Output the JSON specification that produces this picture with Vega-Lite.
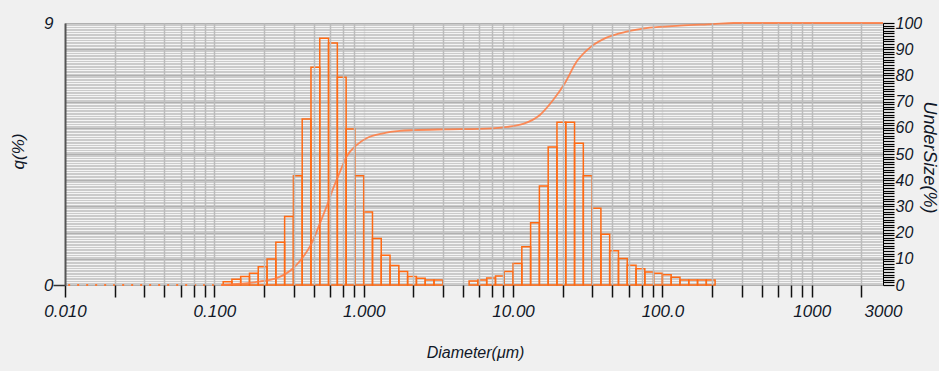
{
  "$schema": "https://vega.github.io/schema/vega-lite/v6.json",
  "width": 818,
  "height": 262,
  "autosize": {"type": "none"},
  "padding": {"left": 65, "top": 23, "right": 56, "bottom": 86},
  "background": "#f0f0f0",
  "view": {"fill": "#cbcbcb", "stroke": null},
  "config": {"font": "Liberation Sans"},
  "datasets": {
    "bins": [
      {"lo": 0.1146, "hi": 0.1311, "q": 0.11},
      {"lo": 0.1311, "hi": 0.1501, "q": 0.2},
      {"lo": 0.1501, "hi": 0.1719, "q": 0.29},
      {"lo": 0.1719, "hi": 0.1968, "q": 0.4},
      {"lo": 0.1968, "hi": 0.2254, "q": 0.63},
      {"lo": 0.2254, "hi": 0.2581, "q": 0.89},
      {"lo": 0.2581, "hi": 0.2955, "q": 1.47},
      {"lo": 0.2955, "hi": 0.3384, "q": 2.35},
      {"lo": 0.3384, "hi": 0.3875, "q": 3.75},
      {"lo": 0.3875, "hi": 0.4437, "q": 5.7},
      {"lo": 0.4437, "hi": 0.508, "q": 7.48},
      {"lo": 0.508, "hi": 0.5817, "q": 8.48},
      {"lo": 0.5817, "hi": 0.6661, "q": 8.31},
      {"lo": 0.6661, "hi": 0.7627, "q": 7.14},
      {"lo": 0.7627, "hi": 0.8733, "q": 5.36},
      {"lo": 0.8733, "hi": 1.0, "q": 3.75},
      {"lo": 1.0, "hi": 1.145, "q": 2.51},
      {"lo": 1.145, "hi": 1.311, "q": 1.6},
      {"lo": 1.311, "hi": 1.501, "q": 1.02},
      {"lo": 1.501, "hi": 1.719, "q": 0.67},
      {"lo": 1.719, "hi": 1.968, "q": 0.46},
      {"lo": 1.968, "hi": 2.254, "q": 0.29},
      {"lo": 2.254, "hi": 2.581, "q": 0.23},
      {"lo": 2.581, "hi": 2.955, "q": 0.17},
      {"lo": 2.955, "hi": 3.384, "q": 0.17},
      {"lo": 5.08, "hi": 5.817, "q": 0.14},
      {"lo": 5.817, "hi": 6.661, "q": 0.17},
      {"lo": 6.661, "hi": 7.627, "q": 0.24},
      {"lo": 7.627, "hi": 8.733, "q": 0.31},
      {"lo": 8.733, "hi": 10.0, "q": 0.46},
      {"lo": 10.0, "hi": 11.45, "q": 0.74},
      {"lo": 11.45, "hi": 13.11, "q": 1.31},
      {"lo": 13.11, "hi": 15.01, "q": 2.14},
      {"lo": 15.01, "hi": 17.19, "q": 3.4},
      {"lo": 17.19, "hi": 19.68, "q": 4.74},
      {"lo": 19.68, "hi": 22.54, "q": 5.59},
      {"lo": 22.54, "hi": 25.81, "q": 5.59},
      {"lo": 25.81, "hi": 29.55, "q": 4.87},
      {"lo": 29.55, "hi": 33.84, "q": 3.75},
      {"lo": 33.84, "hi": 38.75, "q": 2.64},
      {"lo": 38.75, "hi": 44.37, "q": 1.74},
      {"lo": 44.37, "hi": 50.8, "q": 1.18},
      {"lo": 50.8, "hi": 58.17, "q": 0.91},
      {"lo": 58.17, "hi": 66.61, "q": 0.68},
      {"lo": 66.61, "hi": 76.27, "q": 0.56},
      {"lo": 76.27, "hi": 87.33, "q": 0.45},
      {"lo": 87.33, "hi": 100.0, "q": 0.4},
      {"lo": 100.0, "hi": 114.5, "q": 0.35},
      {"lo": 114.5, "hi": 131.1, "q": 0.27},
      {"lo": 131.1, "hi": 150.1, "q": 0.17},
      {"lo": 150.1, "hi": 171.9, "q": 0.17},
      {"lo": 171.9, "hi": 196.8, "q": 0.17},
      {"lo": 196.8, "hi": 225.4, "q": 0.17}
    ],
    "dots": [
      {"d": 0.0105, "u": 0},
      {"d": 0.1146, "u": 0}
    ],
    "cum": [
      {"d": 0.1146, "u": 0},
      {"d": 0.15, "u": 0.5},
      {"d": 0.2, "u": 1.3},
      {"d": 0.261, "u": 2.6},
      {"d": 0.337, "u": 6.4},
      {"d": 0.394, "u": 10.8},
      {"d": 0.448, "u": 15.9},
      {"d": 0.509, "u": 23.5},
      {"d": 0.564, "u": 29.9},
      {"d": 0.625, "u": 36.9},
      {"d": 0.693, "u": 43.2},
      {"d": 0.768, "u": 49.0},
      {"d": 0.896, "u": 53.4},
      {"d": 1.045, "u": 56.0},
      {"d": 1.35, "u": 57.9},
      {"d": 1.746, "u": 58.8},
      {"d": 2.145, "u": 59.1},
      {"d": 3.587, "u": 59.4},
      {"d": 5.995, "u": 59.6},
      {"d": 8.585, "u": 60.2},
      {"d": 11.68, "u": 61.5},
      {"d": 15.12, "u": 64.9},
      {"d": 18.55, "u": 70.6},
      {"d": 22.22, "u": 77.0},
      {"d": 26.61, "u": 85.2},
      {"d": 32.68, "u": 90.6},
      {"d": 42.25, "u": 94.4},
      {"d": 57.5, "u": 96.7},
      {"d": 82.35, "u": 98.2},
      {"d": 130.8, "u": 99.0},
      {"d": 218.5, "u": 99.6},
      {"d": 300, "u": 100},
      {"d": 3000, "u": 100}
    ]
  },
  "layer": [
    {
      "layer": [
        {
          "data": {"name": "bins"},
          "mark": {"type": "rect", "fill": "transparent", "stroke": "#ff6a13", "strokeWidth": 1.5},
          "encoding": {
            "x": {
              "field": "lo",
              "type": "quantitative",
              "scale": {"type": "log", "domain": [0.01, 3000], "nice": false},
              "axis": {
                "zindex": 1,
                "values": [0.01, 0.0215, 0.034, 0.0462, 0.0595, 0.0727, 0.086, 0.1, 0.215, 0.34, 0.462, 0.595, 0.727, 0.86, 1, 2.15, 3.4, 4.62, 5.95, 7.27, 8.6, 10, 21.5, 34, 46.2, 59.5, 72.7, 86, 100, 215, 340, 462, 595, 727, 860, 1000, 2150, 3000],
                "labelExpr": "datum.value==0.01?'0.010':datum.value==0.1?'0.100':datum.value==1?'1.000':datum.value==10?'10.00':datum.value==100?'100.0':datum.value==1000?'1000':datum.value==3000?'3000':''",
                "labelOverlap": false,
                "labelBound": false,
                "labelFlush": false,
                "labelFont": "Liberation Sans",
                "labelFontStyle": "italic",
                "labelFontSize": 17,
                "labelColor": "#101828",
                "labelPadding": 6,
                "tickSize": 12,
                "tickColor": {"condition": {"test": "datum.value==3000", "value": "transparent"}, "value": "#111111"},
                "tickWidth": 1.5,
                "domain": false,
                "grid": true,
                "gridColor": {"condition": {"test": "datum.value==0.01 || datum.value==3000", "value": "transparent"}, "value": "#bcbcbc"},
                "gridOpacity": {"condition": {"test": "datum.value==1 || datum.value==10 || datum.value==100", "value": 0.35}, "value": 1},
                "gridWidth": 1.5,
                "title": "Diameter(μm)",
                "titleFont": "Liberation Sans",
                "titleFontStyle": "italic",
                "titleFontWeight": "normal",
                "titleFontSize": 16,
                "titleColor": "#101828",
                "titleBaseline": "middle",
                "titleX": 410,
                "titleY": 67
              }
            },
            "x2": {"field": "hi"},
            "y": {
              "field": "q",
              "type": "quantitative",
              "scale": {"domain": [0, 9], "nice": false},
              "axis": {
                "orient": "left",
                "zindex": 1,
                "values": [0, 9],
                "grid": false,
                "domainColor": "#555555",
                "domainWidth": 2,
                "tickSize": 12,
                "tickColor": {"condition": {"test": "datum.value==9", "value": "transparent"}, "value": "#333333"},
                "tickWidth": 1.5,
                "labelPadding": 0,
                "labelFont": "Liberation Sans",
                "labelFontStyle": "italic",
                "labelFontSize": 17,
                "labelColor": "#101828",
                "title": "q(%)",
                "titleFont": "Liberation Sans",
                "titleFontStyle": "italic",
                "titleFontWeight": "normal",
                "titleFontSize": 17,
                "titleColor": "#101828",
                "titleBaseline": "middle",
                "titleX": -47,
                "titleY": 128
              }
            },
            "y2": {"datum": 0}
          }
        },
        {
          "data": {"name": "dots"},
          "mark": {"type": "line", "stroke": "#ff7a33", "strokeDash": [2, 7], "strokeWidth": 2},
          "encoding": {
            "x": {"field": "d", "type": "quantitative"},
            "y": {"field": "u", "type": "quantitative"}
          }
        }
      ]
    },
    {
      "data": {"name": "cum"},
      "mark": {"type": "line", "stroke": "#ff7a40", "strokeWidth": 1.8, "opacity": 0.85, "interpolate": "monotone"},
      "encoding": {
        "x": {"field": "d", "type": "quantitative"},
        "y": {
          "field": "u",
          "type": "quantitative",
          "scale": {"domain": [0, 100], "nice": false},
          "axis": {
            "orient": "right",
            "zindex": 0,
            "values": [0,1,2,3,4,5,6,7,8,9,10,11,12,13,14,15,16,17,18,19,20,21,22,23,24,25,26,27,28,29,30,31,32,33,34,35,36,37,38,39,40,41,42,43,44,45,46,47,48,49,50,51,52,53,54,55,56,57,58,59,60,61,62,63,64,65,66,67,68,69,70,71,72,73,74,75,76,77,78,79,80,81,82,83,84,85,86,87,88,89,90,91,92,93,94,95,96,97,98,99,100],
            "labelExpr": "datum.value % 10 == 0 ? datum.label : ''",
            "labelOverlap": false,
            "labelBound": false,
            "labelFlush": false,
            "labelFont": "Liberation Sans",
            "labelFontStyle": "italic",
            "labelFontSize": 16,
            "labelColor": "#101828",
            "labelPadding": 1,
            "tickSize": 11,
            "tickColor": "#000000",
            "tickWidth": 1.2,
            "domainColor": "#000000",
            "domainWidth": 1,
            "grid": true,
            "gridColor": {"condition": {"test": "datum.value % 10 == 0", "value": "#b0b0b0"}, "value": "#f4f4f4"},
            "gridWidth": 1.2,
            "title": "UnderSize(%)",
            "titleFont": "Liberation Sans",
            "titleFontStyle": "italic",
            "titleFontWeight": "normal",
            "titleFontSize": 18,
            "titleColor": "#101828",
            "titleBaseline": "middle",
            "titleAngle": 90,
            "titleX": 45,
            "titleY": 134
          }
        }
      }
    }
  ],
  "resolve": {"scale": {"y": "independent"}, "axis": {"y": "independent"}}
}
